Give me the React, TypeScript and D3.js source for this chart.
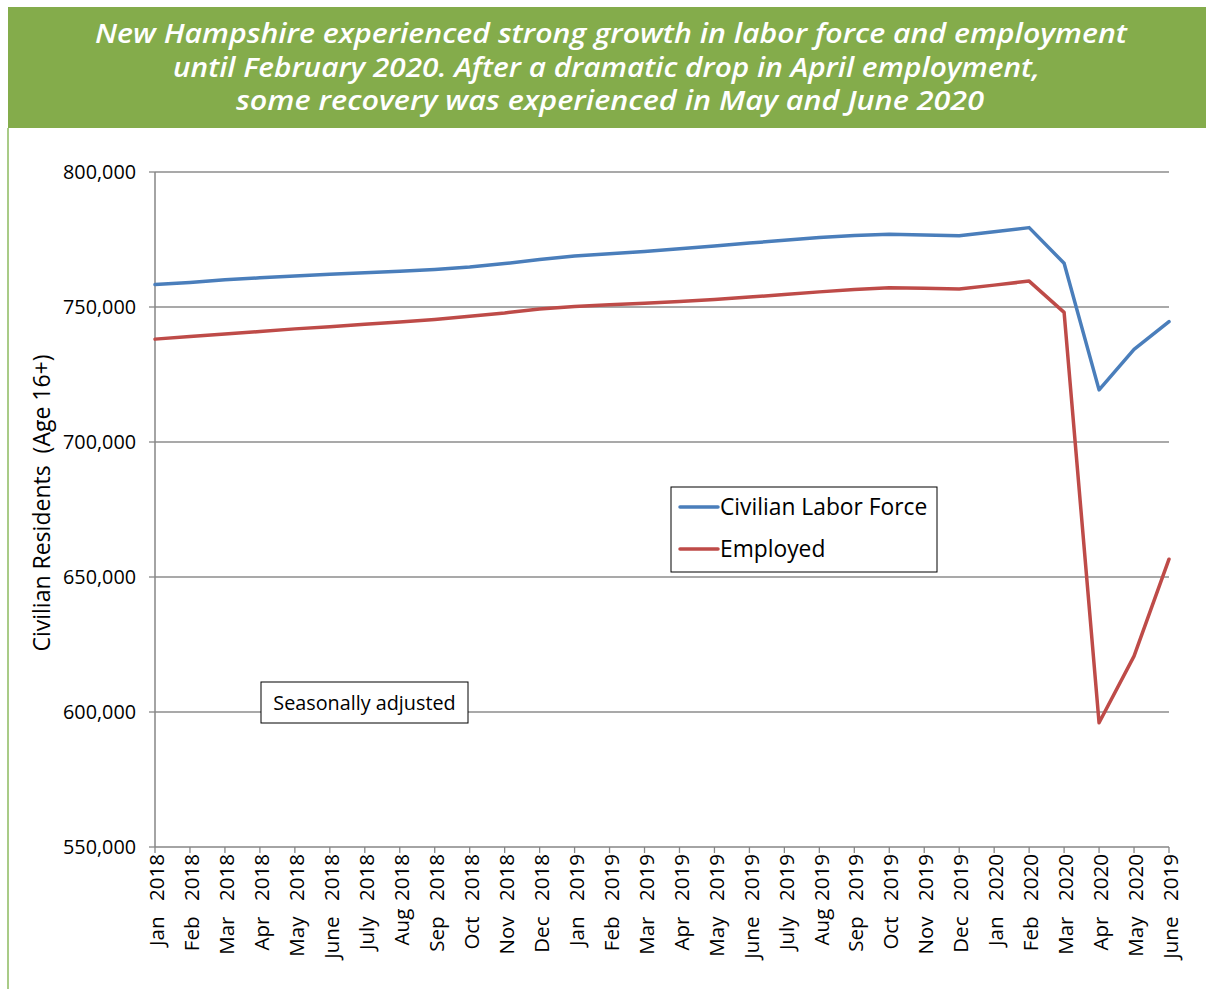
import React from 'react'
import * as d3 from 'd3'

// category labels as printed on the x axis (last one reads "June 2019" in the source)
const months = [
  'Jan  2018', 'Feb  2018', 'Mar  2018', 'Apr  2018', 'May  2018', 'June  2018',
  'July  2018', 'Aug 2018', 'Sep  2018', 'Oct  2018', 'Nov  2018', 'Dec  2018',
  'Jan  2019', 'Feb  2019', 'Mar  2019', 'Apr  2019', 'May  2019', 'June  2019',
  'July  2019', 'Aug 2019', 'Sep  2019', 'Oct  2019', 'Nov  2019', 'Dec  2019',
  'Jan  2020', 'Feb  2020', 'Mar  2020', 'Apr  2020', 'May  2020', 'June  2019'
]

const laborForce = [
  758300, 759100, 760100, 760800, 761500, 762100, 762700, 763200, 763900, 764800,
  766100, 767600, 768900, 769700, 770600, 771600, 772600, 773700, 774700, 775700,
  776500, 776900, 776700, 776400, 777900, 779400, 766200, 719300, 734300, 744600
]

const employed = [
  738100, 739100, 740000, 740900, 741900, 742700, 743600, 744400, 745400, 746600,
  747800, 749300, 750200, 750800, 751400, 752000, 752800, 753700, 754600, 755600,
  756500, 757100, 756900, 756700, 758100, 759600, 748000, 596000, 620700, 656600
]

const yTicks = [550000, 600000, 650000, 700000, 750000, 800000]

const titleLines = [
  'New Hampshire experienced strong growth in labor force and employment',
  'until February 2020. After a dramatic drop in April employment,',
  'some recovery was experienced in May and June 2020'
]

const seriesNames = ['Civilian Labor Force', 'Employed']
const seriesColors = ['#4a7ebb', '#be4b48']

const W = 1206
const H = 989
const margin = { top: 172, right: 37, bottom: 142, left: 155 }
const font = '"Open Sans", "Noto Sans", sans-serif'

export default function App() {
  // labels repeat ("June 2019" twice), so the scale runs on positions
  const keys = months.map((_, i) => String(i))
  const x = d3.scalePoint<string>()
    .domain(keys)
    .range([margin.left, W - margin.right])

  const y = d3.scaleLinear()
    .domain([550000, 800000])
    .range([H - margin.bottom, margin.top])

  const fmt = d3.format(',')

  const line = d3.line<number>()
    .x((_, i) => x(keys[i])!)
    .y(d => y(d))

  const x0 = margin.left
  const x1 = W - margin.right
  const yb = H - margin.bottom

  const titleSpans = [[95, 1127], [173, 1040], [236, 984]]

  return (
    <div style={{ position: 'absolute', left: 0, top: 0 }}>
      <svg width={W} height={H} style={{ display: 'block', background: '#fff' }}>
        {/* header band */}
        <rect x={8} y={7} width={W - 8} height={121} fill="#84ac4b" />
        <line x1={8} x2={8} y1={128} y2={H} stroke="#a9cb87" strokeWidth={2} />
        {titleLines.map((t, i) => (
          <text
            key={i}
            x={titleSpans[i][0]}
            y={43 + i * 33.5}
            textLength={titleSpans[i][1] - titleSpans[i][0]}
            lengthAdjust="spacingAndGlyphs"
            fill="#fff"
            fontFamily={font}
            fontStyle="italic"
            fontWeight={600}
            fontSize={27}
          >
            {t}
          </text>
        ))}

        {/* gridlines */}
        {yTicks.slice(1).map(t => (
          <line key={t} x1={x0} x2={x1} y1={y(t)} y2={y(t)} stroke="#8c8c8c" strokeWidth={1.3} />
        ))}

        {/* y axis */}
        <line x1={x0} x2={x0} y1={margin.top} y2={yb} stroke="#868686" strokeWidth={1.5} />
        {yTicks.map(t => (
          <g key={t}>
            <line x1={x0 - 6} x2={x0} y1={y(t)} y2={y(t)} stroke="#868686" strokeWidth={1.3} />
            <text
              x={136}
              y={y(t)}
              dy="0.35em"
              textAnchor="end"
              fontFamily={font}
              fontSize={19.8}
              fill="#000"
            >
              {fmt(t)}
            </text>
          </g>
        ))}
        <text
          transform={`translate(50,${503}) rotate(-90)`}
          textAnchor="middle"
          fontFamily={font}
          fontSize={23}
          fill="#000"
          style={{ whiteSpace: 'pre' }}
        >
          {'Civilian Residents  (Age 16+)'}
        </text>

        {/* x axis */}
        <line x1={x0} x2={x1} y1={yb} y2={yb} stroke="#868686" strokeWidth={1.5} />
        {months.map((m, i) => (
          <g key={i}>
            <line x1={x(keys[i])} x2={x(keys[i])} y1={yb} y2={yb + 6} stroke="#868686" strokeWidth={1.3} />
            <text
              transform={`translate(${x(keys[i])! + 2},${yb + 7}) rotate(-90)`}
              dy="0.35em"
              textAnchor="end"
              fontFamily={font}
              fontSize={20.5}
              wordSpacing={2.5}
              fill="#000"
              style={{ whiteSpace: 'pre' }}
            >
              {m}
            </text>
          </g>
        ))}

        {/* series */}
        {[laborForce, employed].map((s, i) => (
          <path
            key={i}
            d={line(s)!}
            fill="none"
            stroke={seriesColors[i]}
            strokeWidth={3.5}
            strokeLinejoin="round"
            strokeLinecap="round"
          />
        ))}

        {/* legend */}
        <rect x={671} y={487} width={266} height={85} fill="#fff" stroke="#000" strokeWidth={1} />
        {seriesNames.map((n, i) => (
          <g key={n}>
            <line
              x1={680}
              x2={718}
              y1={507 + i * 42}
              y2={507 + i * 42}
              stroke={seriesColors[i]}
              strokeWidth={3.5}
              strokeLinecap="round"
            />
            <text x={720} y={507 + i * 42} dy="0.35em" fontFamily={font} fontSize={22.8} fill="#000">
              {n}
            </text>
          </g>
        ))}

        {/* note box */}
        <rect x={261} y={682} width={207} height={41} fill="#fff" stroke="#000" strokeWidth={1} />
        <text x={364.5} y={703} dy="0.35em" textAnchor="middle" fontFamily={font} fontSize={19.8} fill="#000">
          Seasonally adjusted
        </text>
      </svg>
    </div>
  )
}
